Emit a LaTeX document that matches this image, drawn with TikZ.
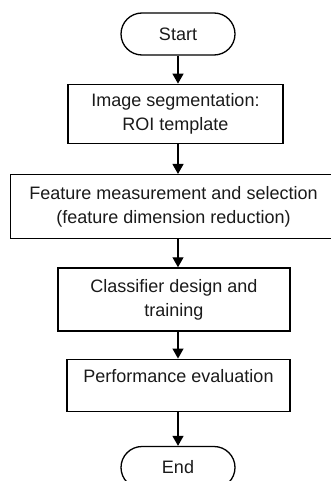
\documentclass[tikz,border=0pt]{standalone}
\usepackage{fontspec}
\setmainfont{Liberation Sans}
\usetikzlibrary{arrows.meta, positioning}
\definecolor{lineColor}{HTML}{000000}
\definecolor{labelColor}{HTML}{1A1A1A}

\begin{document}
\begin{tikzpicture}[
    >=Stealth,
    font=\fontsize{9}{12}\selectfont,
    terminal/.style={
        draw=lineColor, rounded corners=10.5pt, line width=0.65pt,
        minimum width=57pt, minimum height=21pt,
        align=center, inner sep=2pt, text=labelColor
    },
    stepbox/.style={
        draw=lineColor, line width=0.65pt,
        align=center, inner sep=2pt, text=labelColor
    },
    flowarrow/.style={
        -{Triangle[length=5pt,width=5.5pt]},
        lineColor, line width=0.65pt
    },
]

\useasboundingbox (0pt,0pt) rectangle (165.5pt,-240.5pt);

% ============================================================
%  NODES
% ============================================================
\node[terminal] (start) at (89pt,-17pt) {Start};

\node[stepbox, below=14pt of start, xshift=-1.25pt,
      minimum width=107.5pt, minimum height=29.5pt] (seg)
    {Image segmentation:\\ROI template};

\node[stepbox, below=15pt of seg, xshift=-1pt,
      minimum width=163pt, minimum height=32pt] (feat)
    {Feature measurement and selection\\(feature dimension reduction)};

\node[stepbox, below=14pt of feat, xshift=0.25pt,
      minimum width=116pt, minimum height=31.5pt] (train)
    {Classifier design and\\training};

\node[stepbox, below=13.5pt of train, xshift=2.25pt,
      minimum width=111.5pt, minimum height=26pt,
      text height=6.5pt, text depth=9pt] (perf)
    {Performance evaluation};

\node[terminal, below=17pt of perf, xshift=-0.25pt] (stop) {End};

% ============================================================
%  CONNECTORS
% ============================================================
\draw[flowarrow] (start.south) -- (seg.north -| start);
\draw[flowarrow] (seg.south -| start) -- (feat.north -| start);
\draw[flowarrow] (feat.south -| start) -- (train.north -| start);
\draw[flowarrow] (train.south -| start) -- (perf.north -| start);
\draw[flowarrow] (perf.south -| start) -- (stop.north);

\end{tikzpicture}
\end{document}
